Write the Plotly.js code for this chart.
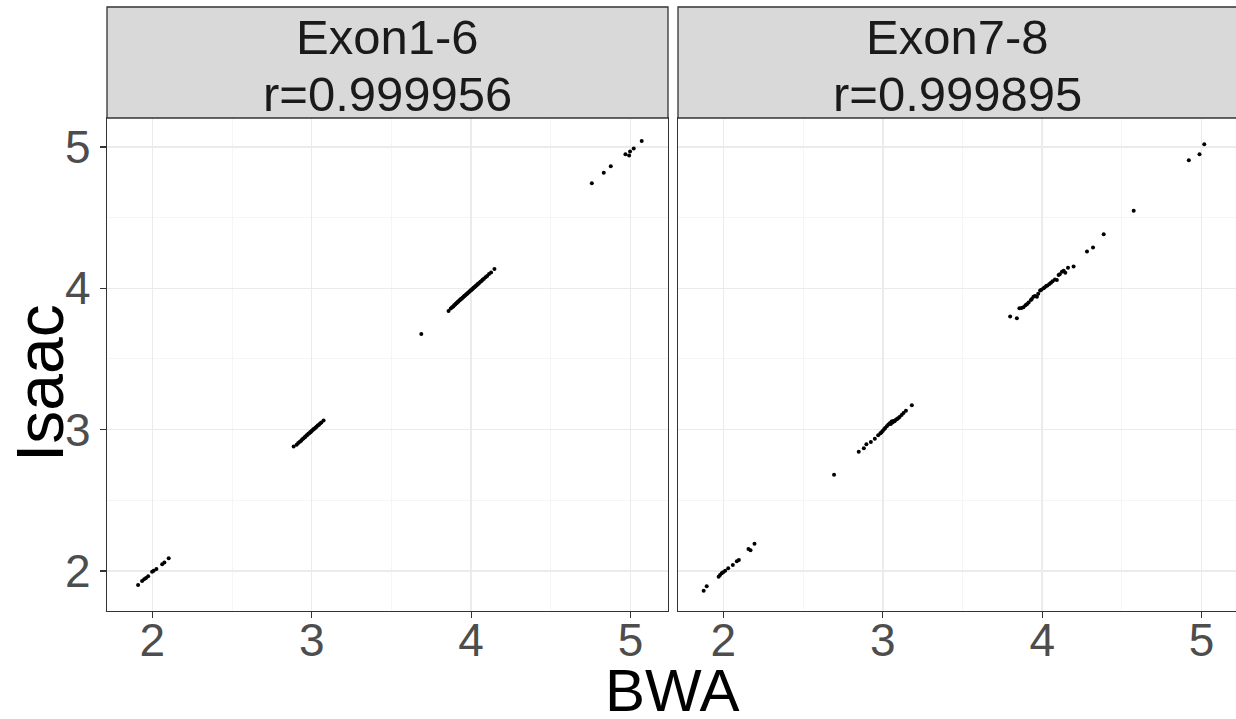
<!DOCTYPE html>
<html>
<head>
<meta charset="utf-8">
<script src="https://cdn.plot.ly/plotly-3.0.1.min.js"></script>
<style>html,body{margin:0;padding:0;background:#fff;overflow:hidden}#chart{width:1236px;height:719px}</style>
</head>
<body>
<div id="chart"></div>
<script>
// ---- Data ----
var panelNames = ["Exon1-6", "Exon7-8"];
var panelR = ["r=0.999956", "r=0.999895"];
var tickVals = [2, 3, 4, 5];
var tickText = ["2", "3", "4", "5"];

var exon16_x = [1.910,1.935,1.948,1.960,1.973,1.998,2.008,2.025,2.061,2.075,2.102,
  2.886,2.905,2.915,2.925,2.933,2.940,2.948,2.955,2.960,2.966,2.972,2.978,2.984,2.990,2.995,3.000,3.006,3.012,3.018,3.024,3.030,3.037,3.045,3.052,3.060,3.074,
  3.687,
  3.858,3.872,3.880,3.888,3.893,3.900,3.905,3.910,3.915,3.920,3.925,3.930,3.935,3.940,3.945,3.950,3.955,3.960,3.965,3.970,3.975,3.980,3.985,3.990,3.995,4.000,4.005,4.010,4.015,4.020,4.025,4.030,4.035,4.040,4.045,4.050,4.058,4.065,4.072,4.080,4.090,4.100,4.112,4.125,4.146,
  4.757,4.832,4.876,4.968,4.991,4.997,5.020,5.070];
var exon16_y = [1.901,1.929,1.941,1.950,1.962,1.995,2.002,2.014,2.047,2.061,2.090,
  2.880,2.893,2.906,2.914,2.922,2.933,2.938,2.947,2.950,2.958,2.963,2.971,2.975,2.982,2.986,2.993,2.997,3.004,3.008,3.016,3.020,3.029,3.035,3.044,3.050,3.064,
  3.677,
  3.840,3.857,3.866,3.872,3.880,3.885,3.893,3.897,3.904,3.907,3.913,3.917,3.924,3.927,3.934,3.937,3.944,3.947,3.952,3.958,3.962,3.968,3.973,3.977,3.984,3.987,3.994,3.997,4.004,4.007,4.013,4.018,4.022,4.028,4.032,4.038,4.046,4.052,4.061,4.067,4.078,4.087,4.101,4.112,4.137,
  4.744,4.817,4.864,4.949,4.939,4.968,4.989,5.043];

var exon78_x = [1.876,1.895,1.970,1.979,1.989,1.998,2.011,2.030,2.059,2.084,2.097,2.157,2.170,2.195,
  2.694,
  2.849,2.881,2.897,2.925,2.950,2.971,2.985,2.992,3.000,3.008,3.015,3.025,3.035,3.044,3.050,3.055,3.060,3.065,3.070,3.075,3.082,3.090,3.096,3.105,3.118,3.130,3.145,3.182,
  3.799,3.841,3.857,3.870,3.882,3.895,3.904,3.915,3.929,3.935,3.945,3.955,3.967,3.975,3.987,3.995,4.008,4.015,4.025,4.033,4.045,4.055,4.065,4.080,4.092,4.103,4.110,4.124,4.135,4.145,4.162,4.197,4.281,4.319,4.386,
  4.574,4.920,4.987,5.017];
var exon78_y = [1.861,1.892,1.960,1.972,1.984,1.991,2.002,2.019,2.042,2.069,2.078,2.156,2.146,2.193,
  2.681,
  2.844,2.868,2.897,2.913,2.936,2.960,2.975,2.981,2.992,3.003,3.012,3.024,3.036,3.045,3.040,3.057,3.050,3.062,3.058,3.062,3.070,3.075,3.081,3.090,3.104,3.118,3.134,3.173,
  3.800,3.788,3.859,3.860,3.866,3.880,3.887,3.900,3.918,3.925,3.941,3.945,3.941,3.962,3.984,3.990,4.001,4.005,4.017,4.020,4.030,4.040,4.050,4.062,4.059,4.095,4.100,4.118,4.125,4.111,4.146,4.154,4.260,4.288,4.383,
  4.548,4.906,4.949,5.020];

// ---- Layout helpers (pixel -> paper) ----
var W = 1236, H = 719;
function px(v){ return v / W; }
function py(v){ return 1 - v / H; }

var FONT = "Liberation Sans, Arial, Helvetica, sans-serif";
var marker = {color: "#000000", size: 4};

var traces = [
  {x: exon16_x, y: exon16_y, type: "scatter", mode: "markers", marker: marker, xaxis: "x", yaxis: "y", hoverinfo: "x+y"},
  {x: exon78_x, y: exon78_y, type: "scatter", mode: "markers", marker: marker, xaxis: "x2", yaxis: "y2", hoverinfo: "x+y"}
];

var gridMajor = "#EBEBEB";
var minorCfg = {dtick: 0.5, tick0: 2, showgrid: true, gridcolor: "#F2F2F2", gridwidth: 0.8, ticks: ""};

function xAxis(domain, range){
  return {
    domain: domain, range: range, tickmode: "array", tickvals: tickVals, ticktext: tickText,
    showgrid: true, gridcolor: gridMajor, gridwidth: 1.4, zeroline: false,
    showline: true, linecolor: "#333333", linewidth: 1.3, mirror: true,
    ticks: "outside", ticklen: 6, tickcolor: "#333333", tickwidth: 1.3,
    ticklabelstandoff: -18,
    tickfont: {family: FONT, size: 46, color: "#4D4D4D"},
    minor: minorCfg, fixedrange: true
  };
}

var yRange = [1.717, 5.205];
var d1 = [px(107), px(668)];
var d2 = [px(678), 1];
var yd = [py(611), py(118)];

var layout = {
  width: W, height: H,
  margin: {l: 0, r: 0, t: 0, b: 0, pad: 0},
  paper_bgcolor: "#FFFFFF", plot_bgcolor: "#FFFFFF",
  showlegend: false,
  xaxis: xAxis(d1, [1.715, 5.235]),
  xaxis2: Object.assign(xAxis(d2, [1.715, 5.216]), {anchor: "y2"}),
  yaxis: {
    domain: yd, range: yRange, tickmode: "array", tickvals: tickVals, ticktext: tickText,
    showgrid: true, gridcolor: gridMajor, gridwidth: 1.4, zeroline: false,
    showline: true, linecolor: "#333333", linewidth: 1.3, mirror: true,
    ticks: "outside", ticklen: 6, tickcolor: "#333333", tickwidth: 1.3,
    tickfont: {family: FONT, size: 46, color: "#4D4D4D"},
    minor: {dtick: 0.5, tick0: 2, showgrid: true, gridcolor: "#F2F2F2", gridwidth: 0.8, ticks: ""},
    fixedrange: true
  },
  yaxis2: {
    domain: yd, range: yRange, anchor: "x2", tickmode: "array", tickvals: tickVals,
    showticklabels: false, ticks: "",
    showgrid: true, gridcolor: gridMajor, gridwidth: 1.4, zeroline: false,
    showline: true, linecolor: "#333333", linewidth: 1.3, mirror: false,
    minor: {dtick: 0.5, tick0: 2, showgrid: true, gridcolor: "#F2F2F2", gridwidth: 0.8, ticks: ""},
    fixedrange: true
  },
  shapes: [
    {type: "rect", xref: "paper", yref: "paper", x0: px(107), x1: px(668), y0: py(118), y1: py(7),
     fillcolor: "#D9D9D9", line: {color: "#333333", width: 1.3}, layer: "above"},
    {type: "rect", xref: "paper", yref: "paper", x0: px(678), x1: px(1245), y0: py(118), y1: py(7),
     fillcolor: "#D9D9D9", line: {color: "#333333", width: 1.3}, layer: "above"}
  ],
  annotations: [
    {text: panelNames[0], xref: "paper", yref: "paper", x: px(387.5), y: py(37), xanchor: "center", yanchor: "middle", showarrow: false, font: {family: FONT, size: 49, color: "#1A1A1A"}},
    {text: panelR[0], xref: "paper", yref: "paper", x: px(387.5), y: py(94), xanchor: "center", yanchor: "middle", showarrow: false, font: {family: FONT, size: 49, color: "#1A1A1A"}},
    {text: panelNames[1], xref: "paper", yref: "paper", x: px(958), y: py(37), xanchor: "center", yanchor: "middle", showarrow: false, font: {family: FONT, size: 49, color: "#1A1A1A"}},
    {text: panelR[1], xref: "paper", yref: "paper", x: px(958), y: py(94), xanchor: "center", yanchor: "middle", showarrow: false, font: {family: FONT, size: 49, color: "#1A1A1A"}},
    {text: "BWA", xref: "paper", yref: "paper", x: px(672), y: py(690), xanchor: "center", yanchor: "middle", showarrow: false, font: {family: FONT, size: 60, color: "#000000"}},
    {text: "Isaac", xref: "paper", yref: "paper", x: px(40), y: py(383), xanchor: "center", yanchor: "middle", textangle: -90, showarrow: false, font: {family: FONT, size: 66, color: "#000000"}}
  ]
};

Plotly.newPlot("chart", traces, layout, {displayModeBar: false, staticPlot: true});
</script>
</body>
</html>
